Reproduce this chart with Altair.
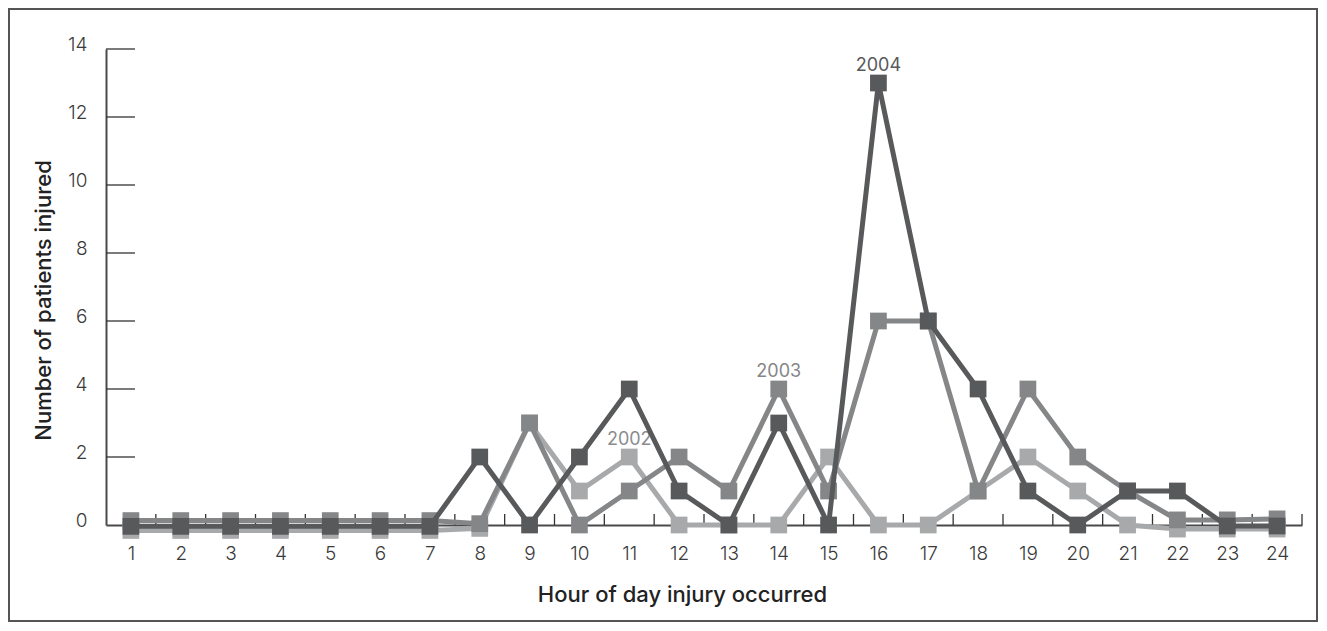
import altair as alt
import pandas as pd

# ---- data ----
hours = list(range(1, 25))
years = ["2002", "2003", "2004"]
y2002 = [-0.16, -0.16, -0.16, -0.16, -0.16, -0.16, -0.16, -0.1, 3, 1, 2, 0, 0, 0, 2, 0, 0, 1, 2, 1, 0, -0.12, -0.12, -0.12]
y2003 = [0.13, 0.13, 0.13, 0.13, 0.13, 0.13, 0.13, 0.04, 3, 0, 1, 2, 1, 4, 1, 6, 6, 1, 4, 2, 1, 0.15, 0.15, 0.18]
y2004 = [-0.04, -0.04, -0.04, -0.04, -0.04, -0.04, -0.04, 2, 0, 2, 4, 1, 0, 3, 0, 13, 6, 4, 1, 0, 1, 1, -0.03, -0.03]
series = {"2002": y2002, "2003": y2003, "2004": y2004}
label_hours = [11, 14, 16]
label_values = [2, 4, 13]
x_tick_positions = [h + 0.5 for h in hours]
y_tick_values = [2, 4, 6, 8, 10, 12, 14]
y_label_values = [0, 2, 4, 6, 8, 10, 12, 14]

# ---- styles ----
line_colors = {"2002": "#a8a9ab", "2003": "#858688", "2004": "#58595b"}
label_colors = {"2002": "#8b8c8e", "2003": "#858688", "2004": "#58595b"}
W, H = 1196, 476
FONT = "Inter"

xscale = alt.Scale(domain=[0.5, 24.5], nice=False, zero=False)
yscale = alt.Scale(domain=[0, 14], nice=False, zero=False)

x_axis = alt.Axis(
    values=hours, format="d", ticks=False, tickSize=0, grid=False,
    domain=True, domainColor="#4a4a4a", domainWidth=2,
    labelFont=FONT, labelFontSize=19, labelFontWeight=300, labelColor="#3a3a3a",
    labelPadding=19, labelFlush=False, labelOverlap=False,
    title="Hour of day injury occurred", titleFont=FONT, titleFontSize=22,
    titleFontWeight=500, titleColor="#222222", titleX=576, titleY=76,
    titleAlign="center", titleBaseline="alphabetic",
)
y_axis = alt.Axis(
    values=y_label_values, format="d", ticks=False, tickSize=0, grid=False,
    domain=True, domainColor="#4a4a4a", domainWidth=2,
    labelFont=FONT, labelFontSize=19, labelFontWeight=300, labelColor="#3a3a3a",
    labelPadding=19, labelOffset=-5, labelOverlap=False,
    title="Number of patients injured", titleFont=FONT, titleFontSize=22,
    titleFontWeight=500, titleColor="#222222", titleAngle=270,
    titleX=-56, titleY=251, titleAlign="center", titleBaseline="alphabetic",
)


def X(field):
    return alt.X(field, scale=xscale, axis=x_axis)


def Y(field):
    return alt.Y(field, scale=yscale, axis=y_axis)


layers = []

# frame around whole figure
frame = alt.Chart(pd.DataFrame({"a": [0]})).mark_rect(
    fill="transparent", stroke="#555555", strokeWidth=2
).encode(
    x=alt.value(-97), x2=alt.value(W + 15), y=alt.value(-40), y2=alt.value(H + 96)
)
layers.append(frame)

# inward tick marks
xt = alt.Chart(pd.DataFrame({"xt": x_tick_positions})).mark_rule(
    color="#333333", strokeWidth=1.3
).encode(
    x=X("xt:Q"), y=alt.value(H), y2=alt.value(H - 11)
)
yt = alt.Chart(pd.DataFrame({"yt": y_tick_values})).mark_rule(
    color="#333333", strokeWidth=1.3
).encode(
    y=Y("yt:Q"), x=alt.value(0), x2=alt.value(29)
)
layers += [xt, yt]

for i, yr in enumerate(years):
    df = pd.DataFrame({"hour": hours, "count": series[yr]})
    enc = dict(x=X("hour:Q"), y=Y("count:Q"))
    line = alt.Chart(df).mark_line(color=line_colors[yr], strokeWidth=5).encode(**enc)
    pts = alt.Chart(df).mark_square(color=line_colors[yr], size=280, opacity=1).encode(**enc)
    lab_df = pd.DataFrame({"hour": [label_hours[i]], "count": [label_values[i]], "txt": [yr]})
    lab = alt.Chart(lab_df).mark_text(
        font=FONT, fontSize=18, color=label_colors[yr], dy=-12, baseline="alphabetic"
    ).encode(x=X("hour:Q"), y=Y("count:Q"), text="txt:N")
    layers += [line, pts, lab]

chart = alt.layer(*layers).properties(
    width=W, height=H,
    padding={"left": 98, "top": 41, "right": 17, "bottom": 98},
    autosize=alt.AutoSizeParams(type="none"),
).configure_view(strokeWidth=0)

chart.save("out.html", embed_options={"renderer": "svg", "actions": False})
